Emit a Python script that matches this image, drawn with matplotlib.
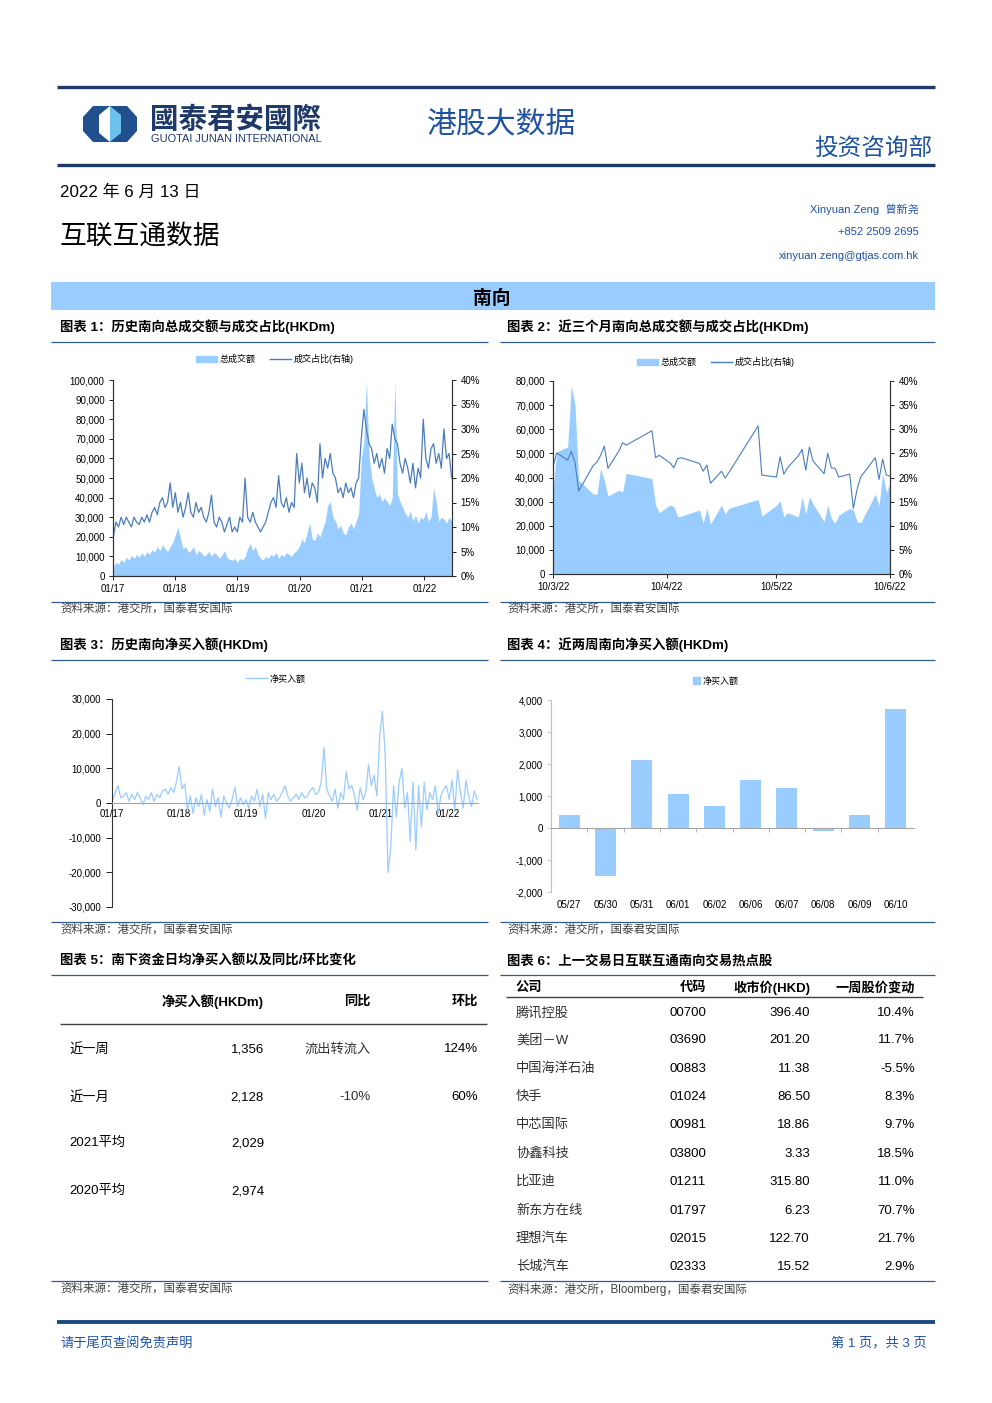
import numpy as np
import pandas as pd
import matplotlib
matplotlib.use('Agg')
import matplotlib.pyplot as plt
import matplotlib.dates as mdates
from matplotlib.patches import Rectangle, Polygon, Patch
from matplotlib.lines import Line2D
from matplotlib.ticker import FuncFormatter, MultipleLocator, FixedLocator

plt.rcParams['font.family'] = ['Liberation Sans', 'Noto Sans CJK SC', 'DejaVu Sans']
plt.rcParams['axes.unicode_minus'] = False

# ---------------- data ----------------
# chart 1 / 3 : readings about twice a month, 2017-01 .. 2022-06
hist_turnover = [
    4500, 7000, 6000, 8500, 7000, 9500, 8000, 10500, 9000, 11000, 9500, 12000,
    10000, 12500, 11000, 13500, 12000, 15000, 13000, 16000, 14000, 12500, 15000, 17000,
    21000, 25000, 19000, 14000, 15000, 12000, 13000, 15000, 11000, 13000, 12000, 10000,
    11000, 12500, 10000, 12000, 11000, 9000, 10500, 13000, 9500, 8500, 8000, 9000,
    7000, 9000, 8000, 10000, 14000, 16500, 13000, 15000, 11000, 9000, 8000, 10000,
    9000, 11000, 10000, 12000, 9000, 11000, 10000, 12000, 11000, 10000, 12000, 13000,
    15000, 19000, 17000, 22000, 27000, 19000, 18000, 22000, 20000, 24000, 28000, 36000,
    38000, 30000, 28000, 24000, 26000, 22000, 21000, 25000, 27000, 24000, 28000, 32000,
    60000, 68000, 100000, 62000, 50000, 45000, 40000, 42000, 38000, 40000, 38000, 36000,
    40000, 100000, 42000, 38000, 35000, 32000, 30000, 33000, 28000, 31000, 27000, 30000,
    29000, 33000, 28000, 30000, 45000, 38000, 28000, 30000, 29000, 27000, 30000, 28000,
]
hist_ratio = [
    8, 11, 10, 12, 10.5, 12, 11, 10, 12, 11, 10.5, 12,
    11, 12.5, 11, 13, 14, 12.5, 15, 16, 14, 15, 19, 14,
    17, 13, 15, 12, 14, 17, 13, 12, 15, 13, 14, 12,
    11, 13, 16.5, 11, 10, 12, 11, 9, 10.5, 12, 9, 10,
    9, 12, 11, 20, 12, 11, 13, 11, 10, 9, 10, 11,
    13, 15, 16, 14, 20.5, 15, 14, 16, 13, 15, 14, 25,
    19, 23, 17, 20, 16, 19, 18, 15, 27, 20, 24, 22,
    25, 21, 20, 17, 18, 16, 19, 17, 18, 16, 19, 20,
    28, 34, 30, 27, 26, 23, 25, 22, 24, 21, 26, 24,
    31, 28, 27, 23, 21, 24, 22, 19, 23, 18, 22, 20,
    32, 24, 22, 26, 27, 23, 25, 22, 30, 24, 25, 20,
]
hist_netbuy = [
    500, 3000, 5000, 1500, 2000, 3000, 500, 2500, 1000, 3000, 1500, -500,
    2000, 1000, 3000, 500, 2500, 1500, 3500, 4000, 2500, 4500, 3000, 6000,
    10500, 4000, 5500, -2000, 2000, -3000, 1500, -1000, 2500, -3500, 1000, -2500,
    4000, -1000, 1500, -4000, 2000, 0, -1500, 1000, 4500, -1000, 1500, -500,
    1000, -1500, 2000, 500, 4000, -1000, 2500, -4500, 3000, 1000, 2500, 500,
    1500, 3000, 5000, 2000, 500, 1500, 2500, 1000, 3000, 1500, 2000, 3500,
    4500, 2500, 3000, 6000, 16000, 4000, 2000, 500, 4000, -1500, 3000, 1000,
    9000, 4000, 5000, 2000, -2000, 4500, 1000, 3000, 11000, 5000, 8000, 2000,
    19000, 26500, 14000, -20000, -13000, 5000, -4000, 6000, 10000, -1500, 3000, -11000,
    6000, -13500, 5000, -7000, 6000, -2000, 3000, 1000, 5000, -3000, 2000, 4000,
    5000, 1000, 6500, -2000, 9500, 3000, -1500, 6500, 2000, -1000, 3500, 1000,
]
hist_dates = pd.date_range('2017-01-03', '2022-06-10', periods=len(hist_turnover))

# chart 2 : last three months
recent_dates = pd.to_datetime([
    '2022-03-10', '2022-03-11', '2022-03-14', '2022-03-15', '2022-03-16', '2022-03-17',
    '2022-03-18', '2022-03-21', '2022-03-22', '2022-03-23', '2022-03-24', '2022-03-25',
    '2022-03-28', '2022-03-29', '2022-03-30', '2022-04-06', '2022-04-07', '2022-04-08',
    '2022-04-11', '2022-04-12', '2022-04-13', '2022-04-14', '2022-04-19', '2022-04-20',
    '2022-04-21', '2022-04-22', '2022-04-25', '2022-04-26', '2022-04-27', '2022-05-05',
    '2022-05-06', '2022-05-10', '2022-05-11', '2022-05-12', '2022-05-13', '2022-05-16',
    '2022-05-17', '2022-05-18', '2022-05-19', '2022-05-20', '2022-05-23', '2022-05-24',
    '2022-05-25', '2022-05-26', '2022-05-27', '2022-05-30', '2022-05-31', '2022-06-01',
    '2022-06-02', '2022-06-06', '2022-06-07', '2022-06-08', '2022-06-09', '2022-06-10',
])
recent_turnover = [
    34800, 50600, 52700, 78200, 70000, 38900, 37500, 33100, 33100, 43700, 38900, 32300,
    34800, 34000, 41700, 39600, 28600, 25400, 28600, 27900, 23700, 24000, 26500, 21000,
    27200, 20700, 28600, 24800, 27200, 30900, 24000, 28500, 30300, 23700, 25400, 23700,
    32000, 24800, 32000, 29000, 21700, 28600, 23000, 21000, 24400, 27200, 26500, 21700,
    21200, 33100, 28300, 41700, 33800, 37500,
]
recent_ratio = [
    22.2, 25.1, 23.6, 25.4, 23.2, 17.2, 18.5, 22.5, 23.2, 24.6, 26.5, 21.9,
    25.5, 27.2, 26.7, 29.7, 24.1, 24.6, 23.0, 22.0, 23.9, 24.1, 22.9, 21.3,
    22.6, 18.8, 21.3, 19.9, 21.0, 30.7, 20.5, 20.1, 24.3, 20.7, 22.0, 24.5,
    25.8, 21.5, 26.3, 23.4, 20.8, 25.0, 22.0, 21.9, 20.1, 20.7, 13.6, 17.5,
    20.1, 24.1, 19.6, 23.8, 20.5, 20.3,
]

# chart 4 : last two weeks
week_days = ['05/27', '05/30', '05/31', '06/01', '06/02', '06/06', '06/07', '06/08', '06/09', '06/10']
week_netbuy = [405, -1490, 2120, 1070, 700, 1505, 1255, -105, 405, 3710]

# table 5
t5_header = ['净买入额(HKDm)', '同比', '环比']
t5_rows = ['近一周', '近一月', '2021平均', '2020平均']
t5_net = ['1,356', '2,128', '2,029', '2,974']
t5_yoy = ['流出转流入', '-10%', '', '']
t5_mom = ['124%', '60%', '', '']

# table 6
t6_header = ['公司', '代码', '收市价(HKD)', '一周股价变动']
t6_names = ['腾讯控股', '美团－W', '中国海洋石油', '快手', '中芯国际', '协鑫科技', '比亚迪', '新东方在线', '理想汽车', '长城汽车']
t6_codes = ['00700', '03690', '00883', '01024', '00981', '03800', '01211', '01797', '02015', '02333']
t6_close = ['396.40', '201.20', '11.38', '86.50', '18.86', '3.33', '315.80', '6.23', '122.70', '15.52']
t6_change = ['10.4%', '11.7%', '-5.5%', '8.3%', '9.7%', '18.5%', '11.0%', '70.7%', '21.7%', '2.9%']

# ---------------- page ----------------
W, H = 992, 1403
NAVY = '#1F3A68'
BLUE_TXT = '#1F52A0'
FILL = '#99CCFF'
LINE = '#4A7EBB'

fig = plt.figure(figsize=(W / 100, H / 100), dpi=100)
page = fig.add_axes([0, 0, 1, 1])
page.set_xlim(0, W)
page.set_ylim(H, 0)
page.axis('off')


def box(x0, y0, x1, y1):
    return fig.add_axes([x0 / W, 1 - y1 / H, (x1 - x0) / W, (y1 - y0) / H])


def hline(x0, x1, y, color, lw):
    page.plot([x0, x1], [y, y], color=color, lw=lw, solid_capstyle='butt')


# header
hline(57, 935, 87, NAVY, 2.4)
hline(57, 935, 165, NAVY, 2.4)

# logo
cx, cy = 110, 124
page.add_patch(Polygon([(cx - 27, cy - 7), (cx - 17, cy - 18), (cx + 17, cy - 18), (cx + 27, cy - 7),
                        (cx + 27, cy + 7), (cx + 17, cy + 18), (cx - 17, cy + 18), (cx - 27, cy + 7)],
                       closed=True, color='#22508F', lw=0))
page.add_patch(Polygon([(cx, cy - 18), (cx + 11, cy - 9), (cx + 11, cy + 9), (cx, cy + 18)],
                       closed=True, color='#6CC0EC', lw=0))
page.add_patch(Polygon([(cx, cy - 18), (cx - 11, cy - 9), (cx - 11, cy + 9), (cx, cy + 18)],
                       closed=True, color='white', lw=0))
page.text(150, 120, '國泰君安國際', family=['Noto Sans CJK TC'], fontsize=20.5, fontweight='bold',
          color=NAVY, va='center', ha='left')
page.text(151, 139, 'GUOTAI JUNAN INTERNATIONAL', fontsize=7.9, color=NAVY, va='center', ha='left')
page.text(427, 124, '港股大数据', fontsize=21.5, color=BLUE_TXT, va='center', ha='left')
page.text(932, 150, '投资咨询部', fontsize=17, color=BLUE_TXT, va='center', ha='right')

page.text(60, 192, '2022 年 6 月 13 日', fontsize=12.2, va='center', ha='left')
page.text(60, 238, '互联互通数据', fontsize=19.3, va='center', ha='left')
page.text(919, 209, 'Xinyuan Zeng  曾新尧', fontsize=8, color=BLUE_TXT, va='center', ha='right')
page.text(919, 232, '+852 2509 2695', fontsize=8, color=BLUE_TXT, va='center', ha='right')
page.text(919, 256, 'xinyuan.zeng@gtjas.com.hk', fontsize=8, color=BLUE_TXT, va='center', ha='right')

page.add_patch(Rectangle((51, 282), 884, 28, color=FILL, lw=0))
page.text(492, 299, '南向', fontsize=13.5, fontweight='bold', va='center', ha='center')

# section frames
SEP = '#2E5A8C'
SRC = '#404040'
sections = [
    (327, 342, 602, 609, '图表 1：历史南向总成交额与成交占比(HKDm)', '图表 2：近三个月南向总成交额与成交占比(HKDm)',
     '资料来源：港交所，国泰君安国际', '资料来源：港交所，国泰君安国际'),
    (645, 660, 922, 930, '图表 3：历史南向净买入额(HKDm)', '图表 4：近两周南向净买入额(HKDm)',
     '资料来源：港交所，国泰君安国际', '资料来源：港交所，国泰君安国际'),
    (961, 975, 1281, 1289, '图表 5：南下资金日均净买入额以及同比/环比变化', '图表 6：上一交易日互联互通南向交易热点股',
     '资料来源：港交所，国泰君安国际', '资料来源：港交所，Bloomberg，国泰君安国际'),
]
for ty, l1, l2, sy, tl, tr, sl, sr in sections:
    page.text(60, ty, tl, fontsize=9.6, fontweight='bold', va='center', ha='left')
    page.text(507, ty, tr, fontsize=9.6, fontweight='bold', va='center', ha='left')
    hline(51, 488, l1, SEP, 0.9)
    hline(500, 935, l1, SEP, 0.9)
    hline(51, 488, l2, SEP, 0.9)
    hline(500, 935, l2, SEP, 0.9)
    page.text(60, sy, sl, fontsize=8.3, color=SRC, va='center', ha='left')
    page.text(507, sy, sr, fontsize=8.3, color=SRC, va='center', ha='left')

# footer
hline(57, 935, 1322, '#1B4A80', 2.8)
page.text(60, 1343, '请于尾页查阅免责声明', fontsize=9.5, color=BLUE_TXT, va='center', ha='left')
page.text(927, 1343, '第 1 页，共 3 页', fontsize=9.5, color=BLUE_TXT, va='center', ha='right')

TICK = 7
thousands = FuncFormatter(lambda v, p: f'{v:,.0f}')
pct = FuncFormatter(lambda v, p: f'{v:.0f}%')


def style_dual(ax, ax2):
    for a in (ax, ax2):
        a.set_facecolor('none')
        a.spines['top'].set_visible(False)
        for s in ('left', 'right', 'bottom'):
            a.spines[s].set_color('#333333')
            a.spines[s].set_linewidth(0.8)
    ax.tick_params(axis='both', labelsize=TICK, length=3, width=0.6, pad=3, colors='black')
    ax2.tick_params(axis='y', labelsize=TICK, length=3, width=0.6, pad=3, colors='black')


# ---------------- chart 1 ----------------
ax1 = box(113, 380, 452, 576)
ax1.fill_between(hist_dates, hist_turnover, color=FILL, lw=0)
ax1.set_ylim(0, 100000)
ax1.yaxis.set_major_locator(MultipleLocator(10000))
ax1.yaxis.set_major_formatter(thousands)
ax1.set_xlim(pd.Timestamp('2017-01-01'), pd.Timestamp('2022-06-12'))
ax1.xaxis.set_major_locator(mdates.YearLocator())
ax1.xaxis.set_major_formatter(mdates.DateFormatter('%m/%y'))
ax1b = ax1.twinx()
ax1b.plot(hist_dates, hist_ratio, color=LINE, lw=0.9)
ax1b.set_ylim(0, 40)
ax1b.yaxis.set_major_locator(MultipleLocator(5))
ax1b.yaxis.set_major_formatter(pct)
style_dual(ax1, ax1b)
ax1b.legend([Patch(color=FILL), Line2D([], [], color=LINE, lw=1)], ['总成交额', '成交占比(右轴)'],
            loc='center', bbox_to_anchor=(275, 359), bbox_transform=page.transData, ncol=2,
            frameon=False, fontsize=6.5, handlelength=2.3, handleheight=0.6, handletextpad=0.3,
            columnspacing=1.6)

# ---------------- chart 2 ----------------
ax2 = box(553, 381, 890, 574)
ax2.fill_between(recent_dates, recent_turnover, color=FILL, lw=0)
ax2.set_ylim(0, 80000)
ax2.yaxis.set_major_locator(MultipleLocator(10000))
ax2.yaxis.set_major_formatter(thousands)
ax2.set_xlim(pd.Timestamp('2022-03-10'), pd.Timestamp('2022-06-10'))
ax2.xaxis.set_major_locator(FixedLocator(mdates.date2num(pd.to_datetime(
    ['2022-03-10', '2022-04-10', '2022-05-10', '2022-06-10']))))
ax2.xaxis.set_major_formatter(FuncFormatter(
    lambda v, p: f'{mdates.num2date(v).day}/{mdates.num2date(v).month}/{mdates.num2date(v):%y}'))
ax2b = ax2.twinx()
ax2b.plot(recent_dates, recent_ratio, color=LINE, lw=0.8)
ax2b.set_ylim(0, 40)
ax2b.yaxis.set_major_locator(MultipleLocator(5))
ax2b.yaxis.set_major_formatter(pct)
style_dual(ax2, ax2b)
ax2b.legend([Patch(color=FILL), Line2D([], [], color=LINE, lw=1)], ['总成交额', '成交占比(右轴)'],
            loc='center', bbox_to_anchor=(716, 362), bbox_transform=page.transData, ncol=2,
            frameon=False, fontsize=6.5, handlelength=2.3, handleheight=0.6, handletextpad=0.3,
            columnspacing=1.6)

# ---------------- chart 3 ----------------
ax3 = box(112, 699, 478, 907)
ax3.set_facecolor('none')
ax3.plot(hist_dates, hist_netbuy, color=FILL, lw=0.9)
ax3.set_ylim(-30000, 30000)
ax3.yaxis.set_major_locator(MultipleLocator(10000))
ax3.yaxis.set_major_formatter(thousands)
ax3.set_xlim(pd.Timestamp('2017-01-01'), pd.Timestamp('2022-06-15'))
ax3.xaxis.set_major_locator(mdates.YearLocator())
ax3.xaxis.set_major_formatter(mdates.DateFormatter('%m/%y'))
ax3.spines['bottom'].set_position(('data', 0))
ax3.spines['bottom'].set_color('#A6A6A6')
ax3.spines['left'].set_color('#333333')
ax3.spines['left'].set_linewidth(0.8)
for s in ('top', 'right'):
    ax3.spines[s].set_visible(False)
ax3.tick_params(axis='y', labelsize=TICK, length=4, width=0.6, pad=4)
ax3.tick_params(axis='x', labelsize=TICK, length=0, pad=4)
ax3.legend([Line2D([], [], color=FILL, lw=1)], ['净买入额'], loc='center',
           bbox_to_anchor=(276, 679), bbox_transform=page.transData, frameon=False,
           fontsize=6.5, handlelength=2.3, handletextpad=0.3)

# ---------------- chart 4 ----------------
ax4 = box(551, 700, 914, 892)
ax4.set_facecolor('none')
xs = np.arange(len(week_days))
ax4.bar(xs, week_netbuy, width=0.58, color=FILL, lw=0)
ax4.set_xlim(-0.5, len(week_days) - 0.5)
ax4.set_ylim(-2000, 4000)
ax4.yaxis.set_major_locator(MultipleLocator(1000))
ax4.yaxis.set_major_formatter(thousands)
ax4.spines['bottom'].set_position(('data', 0))
ax4.spines['bottom'].set_color('#A6A6A6')
ax4.spines['left'].set_color('#BFBFBF')
for s in ('top', 'right'):
    ax4.spines[s].set_visible(False)
ax4.set_xticks([])
ax4.set_xticks(xs[:-1] + 0.5, minor=True)
ax4.tick_params(axis='x', which='minor', length=3, width=0.6, color='#A6A6A6')
ax4.tick_params(axis='y', labelsize=TICK, length=3, width=0.6, color='#BFBFBF', pad=3)
sec = ax4.secondary_xaxis('bottom')
sec.set_xticks(xs)
sec.set_xticklabels(week_days)
sec.spines['bottom'].set_visible(False)
sec.tick_params(length=0, labelsize=TICK, pad=6)
ax4.legend([Patch(color=FILL)], ['净买入额'], loc='center',
           bbox_to_anchor=(716, 681), bbox_transform=page.transData, frameon=False,
           fontsize=6.5, handlelength=0.7, handleheight=0.7, handletextpad=0.3)

# ---------------- table 5 ----------------
T5X = [69, 264, 371, 478]
for x, h in zip(T5X[1:], t5_header):
    page.text(x, 1002, h, fontsize=9.5, fontweight='bold', va='center', ha='right')
hline(60, 487, 1024, '#404040', 1.0)
for i, y in enumerate([1049, 1097, 1143, 1191]):
    page.text(T5X[0], y, t5_rows[i], fontsize=9.5, va='center', ha='left')
    page.text(T5X[1], y, t5_net[i], fontsize=9.5, va='center', ha='right')
    page.text(T5X[2], y, t5_yoy[i], fontsize=9.5, va='center', ha='right', color='#303030')
    page.text(T5X[3], y, t5_mom[i], fontsize=9.5, va='center', ha='right')

# ---------------- table 6 ----------------
page.text(516, 988, t6_header[0], fontsize=9.5, fontweight='bold', va='center', ha='left')
for x, h in zip([706, 810, 915], t6_header[1:]):
    page.text(x, 988, h, fontsize=9.5, fontweight='bold', va='center', ha='right')
hline(506, 923, 997, '#404040', 1.0)
for i, y in enumerate([1013, 1040, 1069, 1097, 1125, 1154, 1182, 1211, 1239, 1267]):
    page.text(516, y, t6_names[i], fontsize=9.5, va='center', ha='left', color='#303030')
    page.text(706, y, t6_codes[i], fontsize=9.5, va='center', ha='right')
    page.text(810, y, t6_close[i], fontsize=9.5, va='center', ha='right')
    page.text(915, y, t6_change[i], fontsize=9.5, va='center', ha='right')

fig.savefig('out.png', dpi=100)
